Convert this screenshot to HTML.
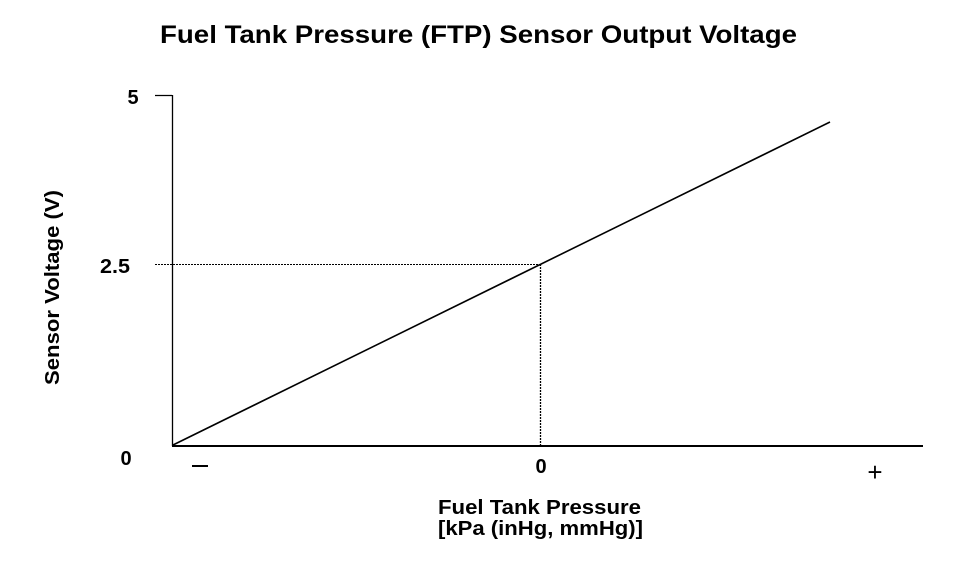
<!DOCTYPE html>
<html><head><style>
body{margin:0;background:#fff;}
svg{display:block;font-family:"Liberation Sans",Arial,sans-serif;font-weight:bold;}
</style></head><body>
<svg width="960" height="566" viewBox="0 0 960 566">
<text x="160" y="43" font-size="25" textLength="637" lengthAdjust="spacingAndGlyphs">Fuel Tank Pressure (FTP) Sensor Output Voltage</text>
<line x1="155" y1="95.5" x2="172" y2="95.5" stroke="#000" stroke-width="1.3"/>
<line x1="172.5" y1="95" x2="172.5" y2="446" stroke="#000" stroke-width="1.3"/>
<line x1="172" y1="446" x2="923" y2="446" stroke="#000" stroke-width="2"/>
<line x1="155" y1="264.5" x2="540" y2="264.5" stroke="#000" stroke-width="1" stroke-dasharray="2,1"/>
<line x1="540.5" y1="264" x2="540.5" y2="446" stroke="#000" stroke-width="1.3" stroke-dasharray="2,1"/>
<line x1="173" y1="445" x2="830" y2="122" stroke="#000" stroke-width="1.6"/>
<text x="133" y="104" font-size="20" text-anchor="middle">5</text>
<text x="100" y="273" font-size="20" textLength="30" lengthAdjust="spacingAndGlyphs">2.5</text>
<text x="126" y="465" font-size="20" text-anchor="middle">0</text>
<line x1="192" y1="466" x2="208" y2="466" stroke="#000" stroke-width="2"/>
<text x="541" y="473" font-size="20" text-anchor="middle">0</text>
<text x="875" y="481" font-size="26" font-weight="normal" text-anchor="middle">+</text>
<text x="438" y="514" font-size="20" textLength="203" lengthAdjust="spacingAndGlyphs">Fuel Tank Pressure</text>
<text x="438" y="535" font-size="20" textLength="205" lengthAdjust="spacingAndGlyphs">[kPa (inHg, mmHg)]</text>
<text transform="translate(59,385) rotate(-90)" font-size="20" textLength="195" lengthAdjust="spacingAndGlyphs">Sensor Voltage (V)</text>
</svg>
</body></html>
